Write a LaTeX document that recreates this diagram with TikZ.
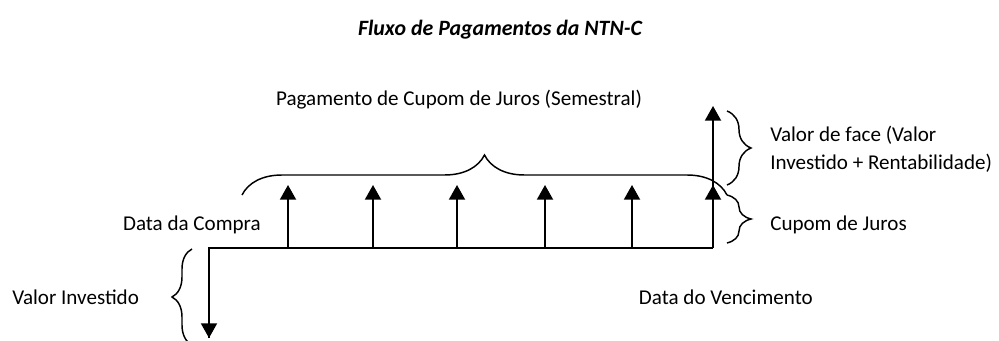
\documentclass[tikz,border=0pt]{standalone}
\usepackage{fontspec}
\setmainfont{Carlito}
\usetikzlibrary{arrows.meta,decorations.pathreplacing}
\begin{document}
\begin{tikzpicture}[x=0.75pt,y=0.75pt,
  flow/.style={line width=1.4pt,-{Triangle[length=11pt,width=12pt]}},
  axis/.style={line width=1.4pt},
  brc/.style={line width=1.1pt,decorate,decoration={brace,amplitude=#1}},
  lbl/.style={inner sep=0pt,font=\fontsize{15.8}{21}\selectfont},
  ttl/.style={inner sep=0pt,font=\fontsize{16.4}{19}\selectfont\bfseries\itshape}]
\useasboundingbox (0,0) rectangle (999,340);
% title
\node[ttl] (title) at (500,310) {Fluxo de Pagamentos da NTN-C};
% baseline
\coordinate (start) at (209,92);
\coordinate (end) at (713,92);
\coordinate (down) at (209,2);
\draw[axis] (down) -- (start) -- (end);
\draw[flow] (start) -- (down);
% coupon arrows
\foreach \i/\x in {1/288,2/373,3/457,4/545,5/632,6/713}{
  \coordinate (b\i) at (\x,92);
  \coordinate (t\i) at (\x,155);
  \draw[flow] (b\i) -- (t\i);
}
\coordinate (face) at (713,234);
\draw[flow] (b6) -- (face);
% braces
\coordinate (bl) at (242,145);
\coordinate (br) at (727,145);
\draw[brc=30pt] (bl) -- (br);
\coordinate (f1) at (727,229);
\coordinate (f2) at (727,155);
\draw[brc=18pt] (f1) -- (f2);
\coordinate (c1) at (727,145);
\coordinate (c2) at (727,97);
\draw[brc=18pt] (c1) -- (c2);
\coordinate (v1) at (192,-5);
\coordinate (v2) at (192,91);
\draw[brc=15pt] (v1) -- (v2);
% labels
\node[lbl] (pag) at (459,240) {Pagamento de Cupom de Juros (Semestral)};
\node[lbl,anchor=east] (compra) at (261,115) {Data da Compra};
\node[lbl,anchor=west] (inv) at (12,43) {Valor Investido};
\node[lbl,anchor=east] (venc) at (813,43) {Data do Vencimento};
\node[lbl,anchor=west,align=left] (vface) at (770,191) {Valor de face (Valor\\Investido + Rentabilidade)};
\node[lbl,anchor=west] (cup) at (770,115) {Cupom de Juros};
\end{tikzpicture}
\end{document}
